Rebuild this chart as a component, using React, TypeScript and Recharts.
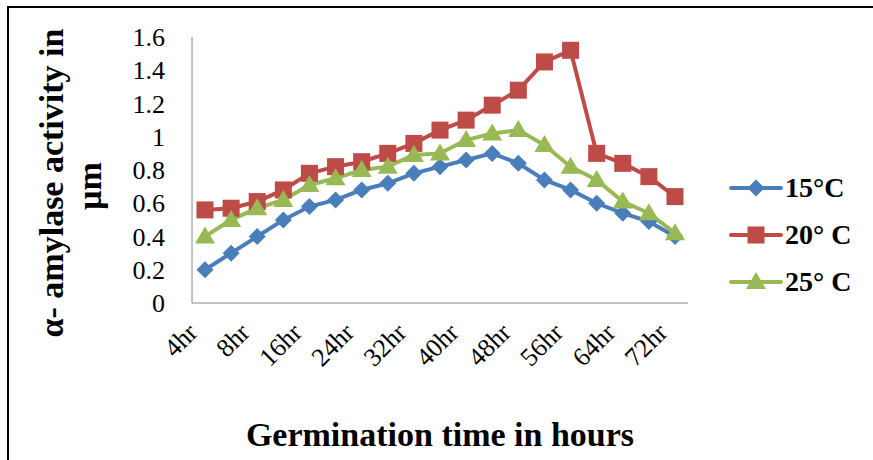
import React from 'react';
import { LineChart, Line, XAxis, YAxis, Legend } from 'recharts';

const hours = [
  '4hr', '6hr', '8hr', '12hr', '16hr', '20hr', '24hr', '28hr', '32hr', '36hr',
  '40hr', '44hr', '48hr', '52hr', '56hr', '60hr', '64hr', '68hr', '72hr',
];
const temp15 = [0.2, 0.3, 0.4, 0.5, 0.58, 0.62, 0.68, 0.72, 0.78, 0.82, 0.86, 0.9, 0.84, 0.74, 0.68, 0.6, 0.54, 0.49, 0.4];
const temp20 = [0.56, 0.57, 0.61, 0.68, 0.78, 0.82, 0.85, 0.9, 0.96, 1.04, 1.1, 1.19, 1.28, 1.45, 1.52, 0.9, 0.84, 0.76, 0.64];
const temp25 = [0.4, 0.5, 0.57, 0.62, 0.71, 0.75, 0.8, 0.82, 0.89, 0.9, 0.98, 1.02, 1.04, 0.95, 0.82, 0.74, 0.61, 0.54, 0.42];
const yTicks = [0, 0.2, 0.4, 0.6, 0.8, 1, 1.2, 1.4, 1.6];

const seriesNames = ['15°C', '20° C', '25° C'];
const BLUE = '#4a7ebb';
const RED = '#be4b48';
const GREEN = '#98b954';
const FONT = '"Liberation Serif", "Times New Roman", serif';

const data = hours.map((h, i) => ({
  hour: h,
  t15: temp15[i],
  t20: temp20[i],
  t25: temp25[i],
}));

// marker shapes, drawn around a centre point
function marker(kind: string, cx: number, cy: number, color: string, key?: any) {
  if (kind === 'diamond') {
    return <path key={key} d={`M${cx},${cy - 8.5}L${cx + 8.5},${cy}L${cx},${cy + 8.5}L${cx - 8.5},${cy}Z`} fill={color} />;
  }
  if (kind === 'square') {
    return <rect key={key} x={cx - 8.5} y={cy - 8.5} width={17} height={17} fill={color} />;
  }
  return <path key={key} d={`M${cx},${cy - 10}L${cx + 10},${cy + 7}L${cx - 10},${cy + 7}Z`} fill={color} />;
}

const dotFor = (kind: string, color: string) => (props: any) =>
  marker(kind, props.cx, props.cy, color, `${kind}-${props.index}`);

const HourTick = (props: any) => {
  const { x, y, payload } = props;
  const ax = x - 6;
  const ay = y + 23;
  return (
    <text
      x={ax}
      y={ay}
      transform={`rotate(-45, ${ax}, ${ay})`}
      textAnchor="end"
      fontFamily={FONT}
      fontSize={26}
      fill="#000"
    >
      {payload.value}
    </text>
  );
};

const YTitle = () => (
  <g fontFamily={FONT} fontWeight="bold" fontSize={34} fill="#000">
    <text x={63} y={183} transform="rotate(-90, 63, 183)" textAnchor="middle">
      α- amylase activity in
    </text>
    <text x={101} y={186} transform="rotate(-90, 101, 186)" textAnchor="middle">
      µm
    </text>
  </g>
);

const legendItems = [
  { name: seriesNames[0], color: BLUE, kind: 'diamond' },
  { name: seriesNames[1], color: RED, kind: 'square' },
  { name: seriesNames[2], color: GREEN, kind: 'triangle' },
];

const ChartLegend = () => (
  <div style={{ fontFamily: FONT, fontWeight: 'bold', fontSize: 28 }}>
    {legendItems.map((it) => (
      <div key={it.name} style={{ display: 'flex', alignItems: 'center', height: 47 }}>
        <svg width={56} height={24}>
          <line x1={3} y1={12} x2={53} y2={12} stroke={it.color} strokeWidth={4} strokeLinecap="round" />
          {marker(it.kind, 28, 12, it.color)}
        </svg>
        <span style={{ marginLeft: 1 }}>{it.name}</span>
      </div>
    ))}
  </div>
);

export default function App() {
  return (
    <div style={{ position: 'absolute', left: 0, top: 0, width: 873, height: 460, background: '#fff', overflow: 'hidden' }}>
      <LineChart
        width={873}
        height={460}
        data={data}
        margin={{ top: 37, right: 185, left: 0, bottom: 97 }}
        style={{ position: 'absolute', left: 0, top: 0 }}
      >
        <XAxis
          dataKey="hour"
          interval={1}
          height={60}
          padding={{ left: 13, right: 13 }}
          tickLine={false}
          stroke="#868686"
          tick={<HourTick />}
        />
        <YAxis
          width={192}
          domain={[0, 1.6]}
          ticks={yTicks}
          interval={0}
          tickLine={false}
          tickMargin={21}
          stroke="#868686"
          tick={{ fill: '#000', fontFamily: FONT, fontSize: 26 }}
          tickFormatter={(v: number) => String(Number(v.toFixed(1)))}
          label={<YTitle />}
        />
        <Legend
          layout="vertical"
          align="center"
          verticalAlign="middle"
          content={<ChartLegend />}
          wrapperStyle={{ position: 'absolute', left: 728, top: 164, width: 145 }}
        />
        <Line dataKey="t15" name={seriesNames[0]} stroke={BLUE} strokeWidth={4} dot={dotFor('diamond', BLUE)} isAnimationActive={false} />
        <Line dataKey="t20" name={seriesNames[1]} stroke={RED} strokeWidth={4} dot={dotFor('square', RED)} isAnimationActive={false} />
        <Line dataKey="t25" name={seriesNames[2]} stroke={GREEN} strokeWidth={4} dot={dotFor('triangle', GREEN)} isAnimationActive={false} />
      </LineChart>
      <div
        style={{
          position: 'absolute',
          left: 192,
          width: 496,
          top: 416,
          textAlign: 'center',
          fontFamily: FONT,
          fontWeight: 'bold',
          fontSize: 34,
        }}
      >
        Germination time in hours
      </div>
      <div
        style={{
          position: 'absolute',
          left: 7,
          top: 6,
          width: 900,
          height: 500,
          borderTop: '2px solid #000',
          borderLeft: '2px solid #000',
          pointerEvents: 'none',
        }}
      />
    </div>
  );
}
